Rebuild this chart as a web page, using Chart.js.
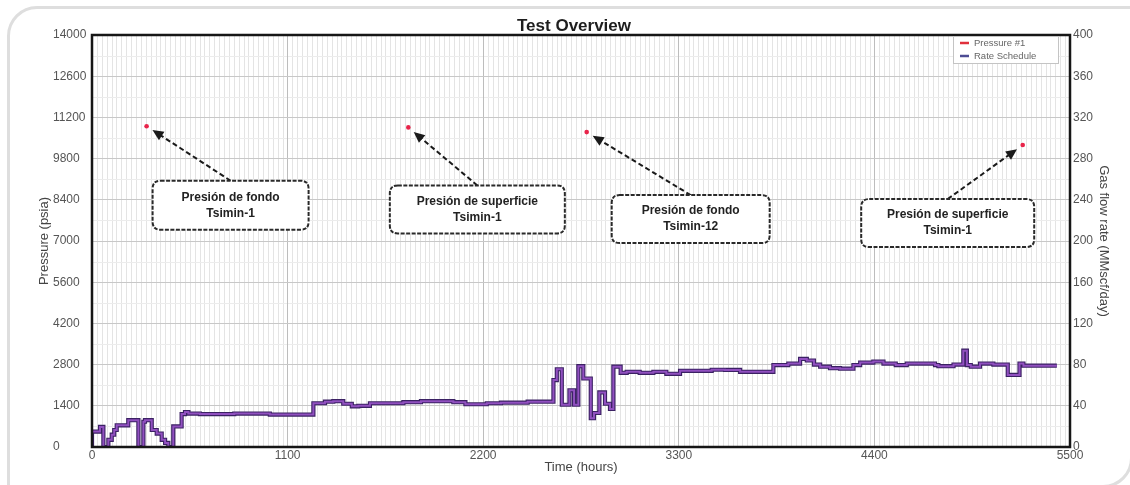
<!DOCTYPE html>
<html>
<head>
<meta charset="utf-8">
<script src="https://cdn.jsdelivr.net/npm/chart.js@4.4.1/dist/chart.umd.min.js"></script>
<style>
  html, body { margin: 0; padding: 0; background: #fff; }
  body { width: 1130px; height: 485px; position: relative; overflow: hidden; }
  .card { position: absolute; left: 7px; top: 6px; width: 1126px; height: 482px; border: 3px solid #dedede; border-radius: 30px 0 30px 0; box-sizing: border-box; }
  .wrap { position: absolute; left: 0; top: 0; width: 1130px; height: 485px; }
</style>
</head>
<body>
<div class="card"></div>
<div class="wrap"><canvas id="myChart" width="1130" height="485"></canvas></div>
<script>
// rate schedule, hours / MMscf/day
const rateHours = [0, 45, 64, 92, 111, 125, 139, 204, 261, 289, 298, 336, 364, 392, 411, 429, 457, 504, 523, 542, 607, 800, 1000, 1245, 1310, 1357, 1413, 1461, 1498, 1563, 1751, 1850, 2032, 2100, 2220, 2300, 2370, 2450, 2595, 2614, 2642, 2685, 2711, 2735, 2763, 2805, 2823, 2853, 2885, 2913, 2932, 2973, 3007, 3080, 3157, 3230, 3307, 3485, 3560, 3645, 3832, 3916, 3982, 4020, 4060, 4095, 4150, 4207, 4282, 4320, 4394, 4451, 4520, 4582, 4741, 4760, 4845, 4900, 4920, 4942, 4994, 5069, 5150, 5216, 5238, 5280, 5426];
const rateValues = [0, 15, 19.5, 0, 7, 12, 16.5, 21, 26, 0, 24.5, 26, 16.5, 13, 7, 4, 0, 20, 32, 34, 32.5, 32, 32.5, 31.5, 42.5, 44, 44.5, 42, 39.5, 40, 42.5, 43.5, 44.5, 43.5, 41.5, 42.5, 43, 43, 44, 65, 75.5, 41, 55, 41, 78.5, 66.5, 28, 33, 53, 42, 37, 78, 72, 73, 72, 73, 71, 74, 75, 74.8, 73, 79.5, 81, 85.5, 84, 80, 78, 76.5, 76, 79.5, 82, 83, 81, 79.5, 81, 79.5, 78.5, 80, 93.5, 79.5, 78, 81, 80, 70, 81, 79, 79];

// Pressure #1 gauge points, hours / psia
const pressureHours = [307, 1779, 2782, 5234];
const pressureValues = [10900, 10860, 10700, 10260];

const timeTicks = [0, 1100, 2200, 3300, 4400, 5500];
const pressureTicks = [0, 1400, 2800, 4200, 5600, 7000, 8400, 9800, 11200, 12600, 14000];
const rateTicks = [0, 40, 80, 120, 160, 200, 240, 280, 320, 360, 400];

const noteLabels = [
    ['Presión de fondo', 'Tsimin-1'],
    ['Presión de superficie', 'Tsimin-1'],
    ['Presión de fondo', 'Tsimin-12'],
    ['Presión de superficie', 'Tsimin-1']
];
// box centre offset from the gauge point, in pixels
const noteLayout = [
    { dx: 84, dy: 79, w: 156, h: 49 },
    { dx: 69, dy: 82, w: 175, h: 48 },
    { dx: 104, dy: 87, w: 158, h: 48 },
    { dx: -75, dy: 78, w: 173, h: 48 }
];

Chart.defaults.font.family = '"Liberation Sans", Arial, sans-serif';

function points(xs, ys) {
    return xs.map((x, i) => ({ x: x, y: ys[i] }));
}

function plain(v) {
    return String(v);
}

function roundBox(ctx, x, y, w, h, r) {
    ctx.beginPath();
    ctx.moveTo(x + r, y);
    ctx.lineTo(x + w - r, y);
    ctx.quadraticCurveTo(x + w, y, x + w, y + r);
    ctx.lineTo(x + w, y + h - r);
    ctx.quadraticCurveTo(x + w, y + h, x + w - r, y + h);
    ctx.lineTo(x + r, y + h);
    ctx.quadraticCurveTo(x, y + h, x, y + h - r);
    ctx.lineTo(x, y + r);
    ctx.quadraticCurveTo(x, y, x + r, y);
    ctx.closePath();
}

const overlay = {
    id: 'overlay',
    beforeDraw(chart) {
        const { ctx, chartArea: a, scales } = chart;
        ctx.save();
        ctx.lineWidth = 1;
        // minor vertical grid
        ctx.strokeStyle = '#e4e4e4';
        for (let i = 1; i < 200; i++) {
            if (i % 40 === 0) continue;
            const px = Math.round(scales.x.getPixelForValue(i * 27.5)) + 0.5;
            ctx.beginPath();
            ctx.moveTo(px, a.top);
            ctx.lineTo(px, a.bottom);
            ctx.stroke();
        }
        // minor horizontal grid
        ctx.strokeStyle = '#ececec';
        for (let p = 700; p < 14000; p += 1400) {
            const py = Math.round(scales.y.getPixelForValue(p)) + 0.5;
            ctx.beginPath();
            ctx.moveTo(a.left, py);
            ctx.lineTo(a.right, py);
            ctx.stroke();
        }
        ctx.restore();
    },
    afterDatasetsDraw(chart) {
        const { ctx, chartArea: a, scales } = chart;
        ctx.save();

        // plot frame
        ctx.strokeStyle = '#161616';
        ctx.lineWidth = 2.5;
        ctx.strokeRect(a.left, a.top, a.right - a.left, a.bottom - a.top);

        // legend
        const lx = a.right - 117, ly = a.top + 1;
        ctx.fillStyle = '#fff';
        ctx.fillRect(lx, ly, 105, 27);
        ctx.strokeStyle = '#c4c4c4';
        ctx.lineWidth = 1;
        ctx.strokeRect(lx + 0.5, ly + 0.5, 105, 27);
        ctx.font = '9.5px "Liberation Sans", Arial, sans-serif';
        ctx.textBaseline = 'middle';
        const legendItems = chart.data.datasets.filter(d => d.legendColor);
        legendItems.forEach((d, i) => {
            const yy = ly + 7 + i * 13;
            ctx.strokeStyle = d.legendColor;
            ctx.lineWidth = 2.5;
            ctx.beginPath();
            ctx.moveTo(lx + 7, yy);
            ctx.lineTo(lx + 16, yy);
            ctx.stroke();
            ctx.fillStyle = '#666';
            ctx.fillText(d.label, lx + 21, yy);
        });

        // callouts
        pressureHours.forEach((t, i) => {
            const px = scales.x.getPixelForValue(t);
            const py = scales.y.getPixelForValue(pressureValues[i]);
            const n = noteLayout[i];
            const cx = px + n.dx, cy = py + n.dy;
            const sx = cx, sy = cy - n.h / 2;
            const ang = Math.atan2(py - sy, px - sx);
            const ex = px - Math.cos(ang) * 7, ey = py - Math.sin(ang) * 7;

            ctx.strokeStyle = '#1a1a1a';
            ctx.fillStyle = '#1a1a1a';
            ctx.lineWidth = 2;
            ctx.setLineDash([5, 3]);
            ctx.beginPath();
            ctx.moveTo(sx, sy);
            ctx.lineTo(ex - Math.cos(ang) * 8, ey - Math.sin(ang) * 8);
            ctx.stroke();
            ctx.setLineDash([]);
            ctx.beginPath();
            ctx.moveTo(ex, ey);
            ctx.lineTo(ex - Math.cos(ang) * 11 + Math.sin(ang) * 5, ey - Math.sin(ang) * 11 - Math.cos(ang) * 5);
            ctx.lineTo(ex - Math.cos(ang) * 11 - Math.sin(ang) * 5, ey - Math.sin(ang) * 11 + Math.cos(ang) * 5);
            ctx.closePath();
            ctx.fill();

            roundBox(ctx, cx - n.w / 2, cy - n.h / 2, n.w, n.h, 8);
            ctx.fillStyle = '#fff';
            ctx.fill();
            ctx.setLineDash([4, 1.5]);
            ctx.lineWidth = 2;
            ctx.strokeStyle = '#2a2a2a';
            ctx.stroke();
            ctx.setLineDash([]);

            ctx.fillStyle = '#222';
            ctx.font = 'bold 12px "Liberation Sans", Arial, sans-serif';
            ctx.textAlign = 'center';
            ctx.textBaseline = 'middle';
            ctx.fillText(noteLabels[i][0], cx, cy - 8);
            ctx.fillText(noteLabels[i][1], cx, cy + 8);
            ctx.textAlign = 'left';
        });
        ctx.restore();
    }
};

var ctx = document.getElementById('myChart').getContext('2d');
var myChart = new Chart(ctx, {
    type: 'line',
    data: {
        datasets: [{
            label: 'rate outline',
            order: 3,
            data: points(rateHours, rateValues),
            yAxisID: 'y1',
            stepped: 'after',
            borderColor: '#3b2163',
            borderWidth: 4.2,
            pointRadius: 0,
            fill: false
        }, {
            label: 'Pressure #1',
            order: 1,
            legendColor: '#e0303c',
            data: points(pressureHours, pressureValues),
            yAxisID: 'y',
            showLine: false,
            pointRadius: 2.3,
            pointBorderWidth: 0,
            pointBackgroundColor: '#e8244a',
            borderColor: '#e8244a'
        }, {
            label: 'Rate Schedule',
            order: 2,
            legendColor: '#4d4c94',
            data: points(rateHours, rateValues),
            yAxisID: 'y1',
            stepped: 'after',
            borderColor: '#9150c0',
            borderWidth: 2,
            pointRadius: 0,
            fill: false
        }]
    },
    options: {
        responsive: false,
        animation: false,
        devicePixelRatio: 1,
        layout: { padding: { left: 37, right: 19, top: 0, bottom: 0 } },
        plugins: {
            legend: { display: false },
            tooltip: { enabled: false },
            title: {
                display: true,
                text: 'Test Overview',
                color: '#1e1e1e',
                font: { size: 17, weight: 'bold', lineHeight: 1 },
                padding: { top: 18, bottom: 0 }
            }
        },
        scales: {
            x: {
                type: 'linear',
                min: 0,
                max: 5500,
                afterBuildTicks: s => { s.ticks = timeTicks.map(v => ({ value: v })); },
                afterFit: s => { s.height = 38; },
                grid: { color: '#bdbdbd', drawTicks: false },
                border: { display: false },
                ticks: { color: '#555', font: { size: 12 }, padding: 1, maxRotation: 0, autoSkip: false, callback: plain },
                title: { display: true, text: 'Time (hours)', color: '#444', font: { size: 13 }, padding: { top: 0, bottom: 10 } }
            },
            y: {
                position: 'left',
                min: 0,
                max: 14000,
                afterBuildTicks: s => { s.ticks = pressureTicks.map(v => ({ value: v })); },
                afterFit: s => { s.width = 39; },
                grid: { color: '#c8c8c8', drawTicks: false },
                border: { display: false },
                ticks: { color: '#555', font: { size: 12 }, crossAlign: 'far', autoSkip: false, callback: plain }
            },
            yt: {
                position: 'left',
                weight: 10,
                afterFit: s => { s.width = 16; },
                grid: { display: false, drawTicks: false },
                border: { display: false },
                ticks: { display: false },
                title: { display: true, text: 'Pressure (psia)', color: '#444', font: { size: 13 }, padding: 0 }
            },
            y1: {
                position: 'right',
                min: 0,
                max: 400,
                afterBuildTicks: s => { s.ticks = rateTicks.map(v => ({ value: v })); },
                afterFit: s => { s.width = 41; },
                grid: { display: false, drawTicks: false },
                border: { display: false },
                ticks: { color: '#555', font: { size: 12 }, padding: 3, autoSkip: false, callback: plain },
                title: { display: true, text: 'Gas flow rate (MMscf/day)', color: '#444', font: { size: 13 }, padding: 0 }
            }
        }
    },
    plugins: [overlay]
});
</script>
</body>
</html>
